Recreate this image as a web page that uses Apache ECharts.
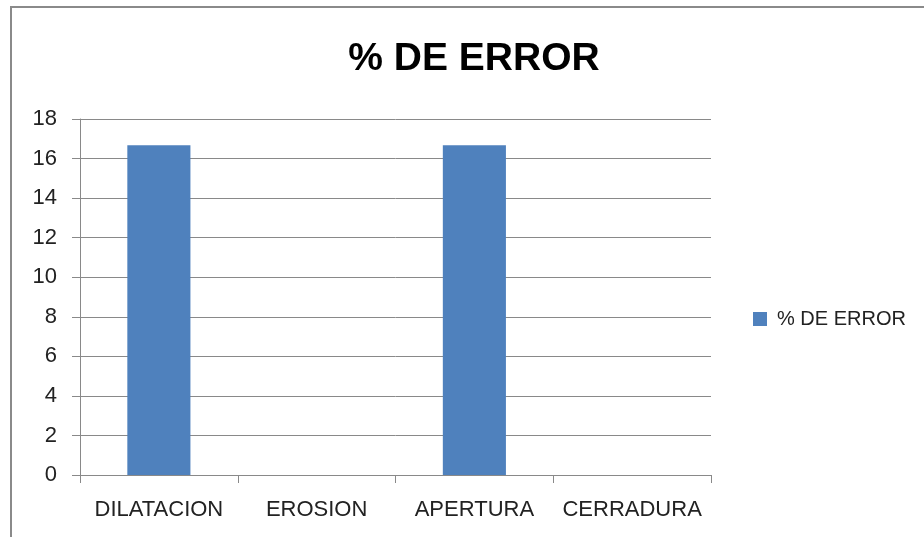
<!DOCTYPE html>
<html>
<head>
<meta charset="utf-8">
<script src="https://cdn.jsdelivr.net/npm/echarts@6/dist/echarts.min.js"></script>
<style>
  html, body { margin: 0; padding: 0; background: #fff; }
  #chart { width: 924px; height: 537px; }
</style>
</head>
<body>
<div id="chart"></div>
<script>
// Error percentage per morphological operation
const categories = ['DILATACION', 'EROSION', 'APERTURA', 'CERRADURA'];
const errorValues = [16.67, 0, 16.67, 0];
const seriesName = '% DE ERROR';
const yTicks = { min: 0, max: 18, interval: 2 };

const FONT = '"Liberation Sans", Arial, sans-serif';
const GRID_GRAY = '#898989';

const chart = echarts.init(document.getElementById('chart'), null, { renderer: 'canvas' });

chart.setOption({
  backgroundColor: '#ffffff',
  animation: false,
  title: {
    text: '% DE ERROR',
    left: 469,
    textAlign: 'center',
    top: 35,
    textStyle: { fontFamily: FONT, fontSize: 39, fontWeight: 'bold', color: '#000' }
  },
  graphic: [{
    type: 'rect',
    shape: { x: 11, y: 7, width: 1000, height: 1000 },
    style: { fill: 'none', stroke: '#8a8a8a', lineWidth: 2 },
    silent: true
  }],
  legend: {
    orient: 'vertical',
    left: 748,
    top: 304,
    itemWidth: 14,
    itemHeight: 14,
    icon: 'rect',
    textStyle: { fontFamily: FONT, fontSize: 20, color: '#222', padding: [0, 0, 0, 5] },
    data: [seriesName]
  },
  grid: { left: 80, right: 213, top: 119, bottom: 62, containLabel: false },
  xAxis: {
    type: 'category',
    data: categories,
    axisLine: { lineStyle: { color: GRID_GRAY, width: 1 } },
    axisTick: { show: true, interval: 0, length: 8, lineStyle: { color: GRID_GRAY } },
    axisLabel: { interval: 0, fontFamily: FONT, fontSize: 22, color: '#222', margin: 24 }
  },
  yAxis: {
    type: 'value',
    min: yTicks.min,
    max: yTicks.max,
    interval: yTicks.interval,
    axisLine: { show: true, lineStyle: { color: GRID_GRAY, width: 1 } },
    axisTick: { show: true, length: 8, lineStyle: { color: GRID_GRAY } },
    splitLine: { show: true, lineStyle: { color: GRID_GRAY, width: 1 } },
    axisLabel: { fontFamily: FONT, fontSize: 22, color: '#222', margin: 23 }
  },
  series: [{
    name: seriesName,
    type: 'bar',
    data: errorValues,
    barWidth: '40%',
    itemStyle: { color: '#4F81BD' }
  }]
});
</script>
</body>
</html>
